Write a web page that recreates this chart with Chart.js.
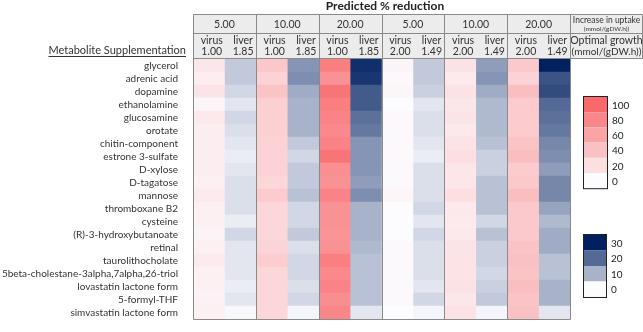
<!DOCTYPE html>
<html>
<head>
<meta charset="utf-8">
<script src="https://cdn.jsdelivr.net/npm/chart.js@4.4.1/dist/chart.umd.min.js"></script>
<style>
  body { margin: 0; background: #fff; }
  #wrap { width: 643px; height: 332px; }
</style>
</head>
<body>
<div id="wrap"><canvas id="heat" width="643" height="332"></canvas></div>
<script>
// Metabolites (rows)
const metabolites = [
    'glycerol', 'adrenic acid', 'dopamine', 'ethanolamine', 'glucosamine', 'orotate',
    'chitin-component', 'estrone 3-sulfate', 'D-xylose', 'D-tagatose', 'mannose',
    'thromboxane B2', 'cysteine', '(R)-3-hydroxybutanoate', 'retinal', 'taurolithocholate',
    '5beta-cholestane-3alpha,7alpha,26-triol', 'lovastatin lactone form', '5-formyl-THF',
    'simvastatin lactone form'
];

// Header labels
const increaseLabels = ['5.00', '10.00', '20.00', '5.00', '10.00', '20.00'];
const hostLabels = ['virus', 'liver', 'virus', 'liver', 'virus', 'liver', 'virus', 'liver', 'virus', 'liver', 'virus', 'liver'];
const growthLabels = ['1.00', '1.85', '1.00', '1.85', '1.00', '1.85', '2.00', '1.49', '2.00', '1.49', '2.00', '1.49'];

// Predicted % reduction for virus (red, 0-100) and liver uptake increase (blue, 0-30)
const virus5a  = [14, 10, 16, 5, 13, 10, 10, 10, 10, 8, 12, 8, 8, 6, 8, 12, 8, 8, 7, 8];
const liver5a  = [7, 7, 5, 3, 5, 4, 3, 2, 3, 4, 4, 4, 2, 5, 3, 3, 3, 2, 3, 0.5];
const virus10a = [36, 28, 38, 30, 30, 30, 28, 28, 28, 25, 33, 25, 25, 25, 27, 32, 25, 25, 25, 25];
const liver10a = [14, 15, 11, 10, 10, 10, 7, 5, 7, 7, 8, 5, 5, 7, 4, 5, 5, 4, 5, 1];
const virus20a = [85, 72, 92, 85, 82, 78, 82, 92, 74, 72, 82, 72, 72, 70, 72, 85, 78, 82, 75, 80];
const liver20a = [28, 27, 22, 22, 19, 18, 14, 14, 14, 13, 15, 10, 10, 10, 9, 8, 8, 8, 8, 3];
const virus5b  = [5, 3, 4, 1, 3, 2, 3, 3, 2, 2, 4, 1, 1, 1, 2, 2, 2, 2, 2, 1];
const liver5b  = [7, 7, 6, 3, 4, 4, 3, 2, 4, 4, 4, 5, 3, 5, 4, 4, 4, 3, 5, 1];
const virus10b = [18, 12, 18, 14, 16, 13, 17, 20, 15, 15, 20, 13, 12, 13, 16, 17, 17, 18, 15, 18];
const liver10b = [13, 14, 11, 9, 9, 9, 8, 6, 6, 8, 8, 8, 5, 8, 6, 6, 5, 6, 7, 1];
const virus20b = [35, 28, 42, 33, 33, 33, 38, 42, 33, 35, 42, 35, 35, 35, 38, 40, 38, 42, 38, 40];
const liver20b = [30, 23, 24, 20, 19, 18, 16, 15, 13, 16, 16, 12, 9, 11, 11, 8, 8, 10, 10, 3];

const redTicks = [100, 80, 60, 40, 20, 0];
const blueTicks = [30, 20, 10, 0];

const columns = [virus5a, liver5a, virus10a, liver10a, virus20a, liver20a,
                 virus5b, liver5b, virus10b, liver10b, virus20b, liver20b];

const WHITE = [252, 252, 255];
const RED = [248, 105, 107];
const NAVY = [0, 32, 96];

function mix(hi, t) {
    t = Math.max(0, Math.min(1, t));
    const c = WHITE.map((w, i) => Math.round(w + (hi[i] - w) * t));
    return `rgb(${c[0]},${c[1]},${c[2]})`;
}
const redColor = v => mix(RED, v / 100);
const blueColor = v => mix(NAVY, v / 30);

// one floating horizontal bar per cell
const datasets = columns.map((vals, c) => ({
    data: vals.map(() => [c, c + 1]),
    backgroundColor: vals.map(v => (c % 2 === 0 ? redColor(v) : blueColor(v))),
    borderWidth: 0,
    barPercentage: 1,
    categoryPercentage: 1
}));

const FONT = 'Lato, "Liberation Sans", sans-serif';
const HEAD_TOP = 14, HEAD_MID = 33;
const LINE = '#8a8a8a';

const headerPlugin = {
    id: 'header',
    afterDraw(chart) {
        const ctx = chart.ctx;
        const xs = chart.scales.x;
        const area = chart.chartArea;
        const left = Math.round(xs.getPixelForValue(0)) + 0.5;
        const right = Math.round(xs.getPixelForValue(12)) + 0.5;
        const extRight = 642.5;
        const top = HEAD_TOP + 0.5, mid = HEAD_MID + 0.5, bot = Math.round(area.top) - 0.5;

        ctx.save();
        // title
        ctx.fillStyle = '#222';
        ctx.font = 'bold 12px ' + FONT;
        ctx.textAlign = 'center';
        ctx.textBaseline = 'middle';
        ctx.fillText('Predicted % reduction', (left + right) / 2 + 3, 6);

        // header backgrounds
        ctx.fillStyle = '#ececec';
        ctx.fillRect(left, top, extRight - left, bot - top);

        // header text: increase level
        ctx.fillStyle = '#333';
        ctx.font = '10.5px ' + FONT;
        increaseLabels.forEach((lab, g) => {
            const cx = (xs.getPixelForValue(2 * g) + xs.getPixelForValue(2 * g + 2)) / 2;
            ctx.fillText(lab, cx, (top + mid) / 2 + 1);
        });
        // host and growth
        hostLabels.forEach((lab, c) => {
            const cx = xs.getPixelForValue(c + 0.5) + 3;
            ctx.fillText(lab, cx, mid + 7);
            ctx.fillText(growthLabels[c], cx, mid + 18);
        });
        // right header cell
        const rx = (right + extRight) / 2;
        ctx.font = '8.5px ' + FONT;
        ctx.fillText('Increase in uptake', rx, top + 6);
        ctx.font = '6.5px ' + FONT;
        ctx.fillText('(mmol/(gDW.h))', rx, top + 14);
        ctx.font = '10.5px ' + FONT;
        ctx.fillText('Optimal growth', rx, mid + 7);
        ctx.font = '10px ' + FONT;
        ctx.fillText('(mmol/(gDW.h))', rx, mid + 18);

        // row label heading
        ctx.font = '11px ' + FONT;
        ctx.textAlign = 'right';
        ctx.fillStyle = '#333';
        ctx.fillText('Metabolite Supplementation', 186, 50);
        const w = ctx.measureText('Metabolite Supplementation').width;
        ctx.fillRect(186 - w, 56, w, 1);

        // grid lines
        ctx.strokeStyle = LINE;
        ctx.lineWidth = 1;
        ctx.beginPath();
        ctx.moveTo(left, top); ctx.lineTo(extRight, top);
        ctx.moveTo(left, mid); ctx.lineTo(extRight, mid);
        ctx.moveTo(left, bot); ctx.lineTo(extRight, bot);
        ctx.moveTo(extRight, top); ctx.lineTo(extRight, bot);
        const bottom = Math.round(area.bottom) + 0.5;
        for (let g = 0; g <= 6; g++) {
            const px = Math.round(xs.getPixelForValue(2 * g)) + 0.5;
            ctx.moveTo(px, top); ctx.lineTo(px, bottom);
        }
        ctx.moveTo(left, bottom); ctx.lineTo(right, bottom);
        ctx.stroke();

        // colour legends
        drawLegend(ctx, redTicks, redColor, 584, 97, 23, 15.2);
        drawLegend(ctx, blueTicks, blueColor, 584, 235, 22, 15.5);
        ctx.restore();
    }
};

function drawLegend(ctx, ticks, colorFn, x, y, w, h) {
    ticks.forEach((t, i) => {
        ctx.fillStyle = colorFn(t);
        ctx.fillRect(x, y + i * h, w, h);
        ctx.fillStyle = '#222';
        ctx.font = '10px ' + FONT;
        ctx.textAlign = 'left';
        ctx.textBaseline = 'middle';
        ctx.fillText(String(t), x + w + 5, y + i * h + h / 2 + 1);
    });
    ctx.strokeStyle = '#222';
    ctx.lineWidth = 1;
    ctx.strokeRect(x - 0.5, y - 0.5, w + 1, ticks.length * h + 1);
}

new Chart(document.getElementById('heat'), {
    type: 'bar',
    data: { labels: metabolites, datasets: datasets },
    options: {
        responsive: false,
        animation: false,
        indexAxis: 'y',
        layout: { padding: { top: 59, right: 73, left: 0, bottom: 2 } },
        datasets: { bar: { grouped: false } },
        scales: {
            x: { type: 'linear', min: 0, max: 12, display: false },
            y: {
                type: 'category',
                position: 'left',
                grid: { display: false },
                border: { display: false },
                ticks: { color: '#333', font: { family: FONT, size: 10 }, padding: 7, autoSkip: false },
                afterFit(scale) { scale.width = 193; }
            }
        },
        plugins: {
            legend: { display: false },
            tooltip: { enabled: false }
        }
    },
    plugins: [headerPlugin]
});
</script>
</body>
</html>
